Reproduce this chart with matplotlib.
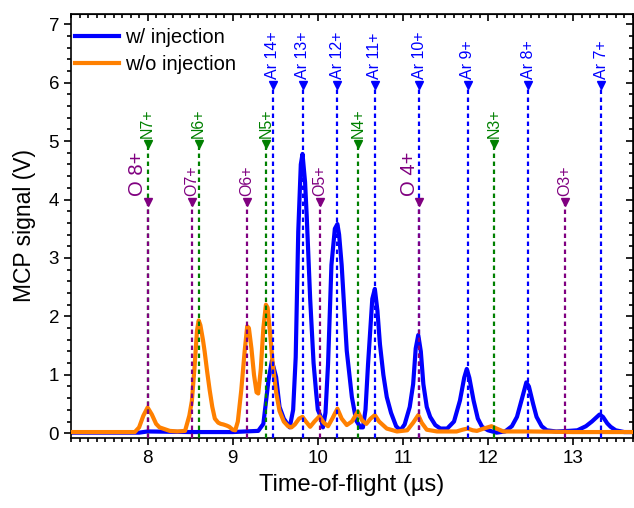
import matplotlib
matplotlib.use('Agg')
import matplotlib.pyplot as plt
from matplotlib.ticker import MultipleLocator

plt.rcParams['font.family'] = ['Liberation Sans', 'DejaVu Sans']

# spectrum with Ar injection
x_with = [7.10, 7.50, 7.90, 8.00, 8.50, 9.00, 9.30, 9.36, 9.42, 9.46, 9.51, 9.55, 9.60, 9.67,
          9.71, 9.74, 9.77, 9.80, 9.82, 9.85, 9.87, 9.91, 9.95, 9.98, 10.00, 10.03, 10.06,
          10.09, 10.12, 10.16, 10.20, 10.23, 10.25, 10.28, 10.34, 10.40, 10.45, 10.50, 10.53,
          10.56, 10.59, 10.64, 10.67, 10.70, 10.73, 10.77, 10.81, 10.86, 10.92, 10.97, 11.02,
          11.08, 11.12, 11.15, 11.18, 11.21, 11.24, 11.28, 11.32, 11.38, 11.44, 11.52, 11.60,
          11.67, 11.72, 11.75, 11.78, 11.83, 11.88, 11.93, 12.00, 12.10, 12.20, 12.28, 12.34,
          12.40, 12.45, 12.48, 12.53, 12.57, 12.63, 12.69, 12.80, 12.95, 13.05, 13.15, 13.22,
          13.28, 13.31, 13.35, 13.40, 13.44, 13.50, 13.60, 13.70]
y_with = [0.01, 0.01, 0.01, 0.03, 0.02, 0.02, 0.04, 0.16, 0.90, 1.24, 0.96, 0.45, 0.25, 0.10,
          0.40, 1.30, 3.45, 4.60, 4.78, 4.30, 3.70, 2.30, 1.20, 0.70, 0.40, 0.30, 0.10,
          0.35, 1.18, 2.88, 3.50, 3.58, 3.40, 2.88, 1.41, 0.62, 0.22, 0.10, 0.10,
          0.40, 1.18, 2.30, 2.47, 2.10, 1.52, 1.00, 0.62, 0.35, 0.12, 0.05, 0.15,
          0.45, 0.84, 1.45, 1.68, 1.40, 0.84, 0.45, 0.28, 0.14, 0.08, 0.08, 0.20,
          0.56, 0.95, 1.10, 0.95, 0.56, 0.25, 0.11, 0.05, 0.01, 0.03, 0.12, 0.28,
          0.60, 0.87, 0.80, 0.50, 0.28, 0.12, 0.05, 0.03, 0.04, 0.05, 0.12, 0.20,
          0.28, 0.32, 0.28, 0.17, 0.11, 0.05, 0.02, 0.02]

# spectrum without injection
x_without = [7.10, 7.50, 7.85, 7.90, 7.95, 8.00, 8.05, 8.10, 8.14, 8.20, 8.26, 8.35, 8.44,
             8.49, 8.52, 8.55, 8.58, 8.60, 8.62, 8.65, 8.67, 8.70, 8.73, 8.76, 8.79, 8.83,
             8.86, 8.89, 8.93, 8.96, 9.00, 9.03, 9.06, 9.10, 9.14, 9.17, 9.19, 9.22, 9.25,
             9.28, 9.30, 9.33, 9.36, 9.39, 9.41, 9.44, 9.47, 9.51, 9.55, 9.60, 9.65, 9.69,
             9.73, 9.78, 9.82, 9.86, 9.91, 9.96, 10.02, 10.07, 10.12, 10.17, 10.23, 10.28,
             10.34, 10.40, 10.47, 10.52, 10.57, 10.62, 10.67, 10.72, 10.81, 10.93, 11.05,
             11.12, 11.18, 11.22, 11.28, 11.40, 11.63, 11.70, 11.76, 11.82, 11.87, 11.95,
             12.04, 12.10, 12.18, 12.50, 13.00, 13.70]
y_without = [0.02, 0.02, 0.02, 0.10, 0.30, 0.44, 0.32, 0.16, 0.10, 0.07, 0.04, 0.03, 0.04,
             0.30, 0.55, 1.10, 1.75, 1.93, 1.85, 1.60, 1.40, 1.05, 0.73, 0.45, 0.25, 0.18,
             0.16, 0.15, 0.13, 0.11, 0.06, 0.05, 0.20, 0.73, 1.40, 1.83, 1.80, 1.45, 1.00,
             0.70, 0.68, 1.10, 1.80, 2.20, 2.15, 1.70, 1.18, 0.70, 0.38, 0.20, 0.12, 0.10,
             0.15, 0.25, 0.28, 0.20, 0.11, 0.20, 0.29, 0.18, 0.12, 0.25, 0.42, 0.25,
             0.14, 0.20, 0.37, 0.22, 0.16, 0.25, 0.31, 0.20, 0.08, 0.03, 0.05,
             0.18, 0.31, 0.18, 0.06, 0.03, 0.03, 0.06, 0.08, 0.05, 0.04, 0.08,
             0.12, 0.08, 0.03, 0.03, 0.02, 0.02]

# expected charge-state positions
ar_labels = ['Ar 14+', 'Ar 13+', 'Ar 12+', 'Ar 11+', 'Ar 10+', 'Ar 9+', 'Ar 8+', 'Ar 7+']
ar_pos = [9.47, 9.82, 10.23, 10.67, 11.19, 11.76, 12.47, 13.33]
n_labels = ['N7+', 'N6+', 'N5+', 'N4+', 'N3+']
n_pos = [8.00, 8.60, 9.39, 10.47, 12.07]
o_labels = ['O 8+', 'O7+', 'O6+', 'O5+', 'O 4+', 'O3+']
o_pos = [8.00, 8.52, 9.17, 10.02, 11.19, 12.90]
o_sizes = [14.5, 11.5, 11.5, 11.5, 14.5, 11.5]
o_shift = [-7, 0, 0, 0, -7, 0]

ymin, ymax = -0.08, 7.18

fig = plt.figure(figsize=(6.34, 5.08), dpi=100)
ax = fig.add_axes([0.112, 0.138, 0.886, 0.835])

ax.plot(x_with, y_with, color='#0000FF', lw=3, label='w/ injection', zorder=2)
ax.plot(x_without, y_without, color='#FF8000', lw=3, label='w/o injection', zorder=3)


def markLines(pos, labels, level, color, sizes, shifts):
    for x, lab, fs, dx in zip(pos, labels, sizes, shifts):
        ax.plot([x, x], [ymin, level], color=color, lw=1.6, ls=(0, (2, 1.6)), zorder=4)
        ax.plot(x, level, 'v', color=color, ms=5.5, zorder=5)
        ax.annotate(lab, (x, level), xytext=(dx, 4), textcoords='offset points',
                    rotation=90, ha='center', va='bottom', color=color, fontsize=fs)


markLines(ar_pos, ar_labels, 5.96, '#0000FF', [11.5] * 8, [0] * 8)
markLines(n_pos, n_labels, 4.95, '#008000', [11.5] * 5, [0] * 5)
markLines(o_pos, o_labels, 3.96, '#800080', o_sizes, o_shift)

ax.set_xlim(7.1, 13.7)
ax.set_ylim(ymin, ymax)
ax.xaxis.set_major_locator(MultipleLocator(1))
ax.xaxis.set_minor_locator(MultipleLocator(0.1))
ax.yaxis.set_major_locator(MultipleLocator(1))
ax.yaxis.set_minor_locator(MultipleLocator(0.2))
ax.tick_params(which='both', direction='out', labelsize=13.5, width=1.2)
ax.tick_params(which='major', length=5)
ax.tick_params(which='minor', length=3)

# mirrored ticks on top and right, pointing inwards
top = ax.secondary_xaxis('top')
top.xaxis.set_major_locator(MultipleLocator(1))
top.xaxis.set_minor_locator(MultipleLocator(0.1))
top.tick_params(which='both', direction='in', labeltop=False, width=1.2)
top.tick_params(which='major', length=5)
top.tick_params(which='minor', length=3)
right = ax.secondary_yaxis('right')
right.yaxis.set_major_locator(MultipleLocator(1))
right.yaxis.set_minor_locator(MultipleLocator(0.2))
right.tick_params(which='both', direction='in', labelright=False, width=1.2)
right.tick_params(which='major', length=5)
right.tick_params(which='minor', length=3)

for s in ax.spines.values():
    s.set_linewidth(1.2)

ax.set_xlabel('Time-of-flight (µs)', fontsize=17, labelpad=5)
ax.set_ylabel('MCP signal (V)', fontsize=16.5, labelpad=9)

ax.legend(loc='upper left', bbox_to_anchor=(0, 0.976), frameon=False, fontsize=14.5,
          handlelength=2.2, handletextpad=0.3, labelspacing=0.4, borderaxespad=0,
          borderpad=0.2)

fig.savefig('out.png', dpi=100)
